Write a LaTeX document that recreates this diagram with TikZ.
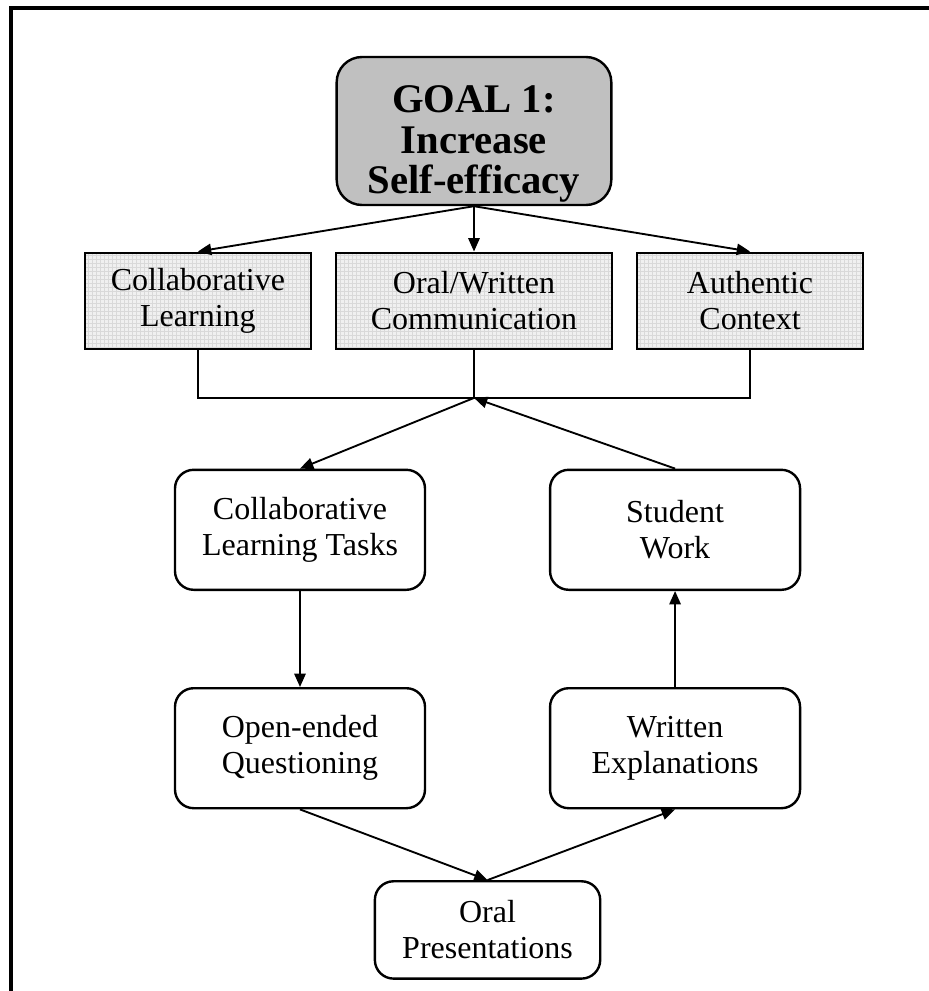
\documentclass[tikz,border=0pt]{standalone}
\usepackage{fontspec}
\setmainfont{Liberation Serif}
\usetikzlibrary{arrows.meta,positioning,calc,patterns}
\definecolor{goalgray}{HTML}{C0C0C0}

\begin{document}
\begin{tikzpicture}[>={Triangle[length=10pt,width=8.5pt]},node distance=34pt and 17pt,
  gbox/.style={draw=black,line width=1.8pt,rounded corners=19pt,fill=goalgray,align=center,inner ysep=0pt,minimum width=206pt,minimum height=111pt,font=\fontsize{30.5}{30.5}\selectfont\bfseries},
  sbox/.style={draw=black,line width=1.8pt,preaction={fill=gray!12},pattern=grid,pattern color=gray!30,align=center,minimum height=72pt,font=\fontsize{24}{27}\selectfont},
  tbox/.style={draw=black,line width=1.8pt,rounded corners=14pt,fill=white,align=center,minimum width=187.5pt,minimum height=90pt,font=\fontsize{24}{27}\selectfont},
  arr/.style={->,line width=1.4pt},
  conn/.style={line width=1.4pt}]
\useasboundingbox (-355.5pt,-645pt) rectangle (340.5pt,98.25pt);
% open frame: top and left edges only
\draw[line width=3pt] (-347.6pt,-700pt) -- (-347.6pt,92.25pt) -- (400pt,92.25pt);

\node[gbox] (goal) at (0,0) {\rule{0pt}{40pt}GOAL 1:\\Increase\\Self-efficacy};
\node[sbox, minimum width=207pt, below=of goal] (comm) {Oral/Written\\Communication};
\node[sbox, minimum width=169.5pt, left=of comm] (collab) {Collaborative\\Learning};
\node[sbox, minimum width=169.5pt, right=of comm] (auth) {Authentic\\Context};
\coordinate[below=36pt of comm] (join);

\node[tbox, below=53pt of join, xshift=-130.5pt] (tasks) {Collaborative\\Learning Tasks};
\node[tbox, right=92pt of tasks] (work) {Student\\Work};
\node[tbox, below=72pt of tasks] (quest) {Open-ended\\Questioning};
\node[tbox, right=92pt of quest] (writing) {Written\\Explanations};
\node[tbox, minimum width=169pt, minimum height=73pt, below=53pt of $(quest.south)!.5!(writing.south)$] (oral) {Oral\\Presentations};

\draw[arr] (goal.south) -- (collab.north);
\draw[arr] (goal.south) -- (comm.north);
\draw[arr] (goal.south) -- (auth.north);
\draw[conn] (collab.south) -- (collab.south |- join) -- (auth.south |- join) -- (auth.south);
\draw[conn] (comm.south) -- (join);
\draw[arr] (join) -- (tasks.north);
\draw[arr] (work.north) -- (join);
\draw[arr] (tasks.south) -- (quest.north);
\draw[arr] (writing.north) -- (work.south);
\draw[arr] (quest.south) -- (oral.north);
\draw[arr] (oral.north) -- (writing.south);
\end{tikzpicture}
\end{document}
